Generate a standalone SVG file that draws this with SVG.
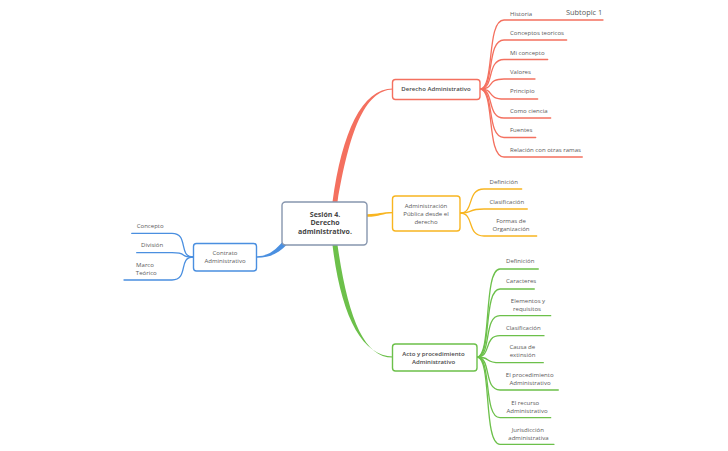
<svg xmlns="http://www.w3.org/2000/svg" width="728" height="451" viewBox="0 0 728 451">
<style>
.bg{fill:#ffffff}
text{font-family:"Open Sans","Liberation Sans",sans-serif;fill:#5a5a5a;font-size:6.05px}
.ctr{font-size:7px;font-weight:bold;fill:#454545}
.mid{text-anchor:middle}
.sb{font-weight:600;fill:#4a4a4a}
.box{fill:#ffffff;stroke-width:1.4}
.sub{fill:none;stroke-width:1.3;stroke-linecap:round}
.r{stroke:#f4705f}.o{stroke:#f8b520}.g{stroke:#6cc04a}.b{stroke:#4a8fe0}
</style>
<rect class="bg" x="0" y="0" width="728" height="451"/>
<g id="connectors">
  <path d="M332.5,202 C342,132 362,88.4 393,88.4 L393,89.6 C364,90 349,134 337.5,202 Z" fill="#f4705f"/>
  <path d="M332.5,245 C341,316 362,356.4 393,356.4 L393,357.6 C364,358 348,318 337.5,245 Z" fill="#6cc04a"/>
  <path d="M367,214.2 C379,214.2 381,212 393,212 L393,213.2 C382,213.2 380,216.8 367,216.8 Z" fill="#f8b520"/>
  <path d="M283,241 C276,250 268,256.2 257,256.2 L257,257.8 C270,257.8 279,253 287,244.5 Z" fill="#4a8fe0"/>
  <g class="sub r">
    <path d="M480,89 C495,89 486,20 504,20 H603"/>
    <path d="M480,89 C495,89 486,40 504,40 H566.7"/>
    <path d="M480,89 C495,89 486,59.5 504,59.5 H547.7"/>
    <path d="M480,89 C495,89 486,79 504,79 H535"/>
    <path d="M480,89 C495,89 486,99 504,99 H537.7"/>
    <path d="M480,89 C495,89 486,118 504,118 H550.7"/>
    <path d="M480,89 C495,89 486,137.5 504,137.5 H535.7"/>
    <path d="M480,89 C495,89 486,157 504,157 H582.3"/>
  </g>
  <g class="sub o">
    <path d="M460,213 C475,213 466,189 484,189 H521.7"/>
    <path d="M460,213 C475,213 466,209 484,209 H527.3"/>
    <path d="M460,213 C475,213 466,236 484,236 H536.7"/>
  </g>
  <g class="sub g">
    <path d="M477,357 C492,357 483,269 500,269 H538.3"/>
    <path d="M477,357 C492,357 483,289 500,289 H534.3"/>
    <path d="M477,357 C492,357 483,315.7 500,315.7 H550.7"/>
    <path d="M477,357 C492,357 483,335.7 500,335.7 H544"/>
    <path d="M477,357 C492,357 483,362.7 500,362.7 H543.3"/>
    <path d="M477,357 C492,357 483,390 500,390 H558.3"/>
    <path d="M477,357 C492,357 483,417.7 500,417.7 H550.7"/>
    <path d="M477,357 C492,357 483,444.3 500,444.3 H554"/>
  </g>
  <g class="sub b">
    <path d="M193,257 C178,257 189,233.3 172,233.3 H131.7"/>
    <path d="M193,257 C178,257 189,252.7 172,252.7 H136.7"/>
    <path d="M193,257 C178,257 189,280 172,280 H124"/>
  </g>
</g>
<g id="central">
  <rect class="box" x="282" y="202" width="85" height="43" rx="3.5" stroke="#8796ae"/>
  <text class="ctr mid" x="325" y="216.5"><tspan x="325">Sesión 4.</tspan><tspan x="325" dy="8.8">Derecho</tspan><tspan x="325" dy="8.8">administrativo.</tspan></text>
</g>
<g id="derecho">
  <rect class="box r" x="392.5" y="79.5" width="87.5" height="20" rx="3"/>
  <text class="sb mid" x="436" y="91.3">Derecho Administrativo</text>
</g>
<g id="derecho-subtopics">
  <text x="510" y="15.5">Historia</text>
  <text x="566" y="15.3" style="font-size:7.4px">Subtopic 1</text>
  <text x="510" y="35">Conceptos teoricos</text>
  <text x="510" y="54.5">Mi concepto</text>
  <text x="510" y="73.5">Valores</text>
  <text x="510" y="93">Principio</text>
  <text x="510" y="112.5">Como ciencia</text>
  <text x="510" y="132.2">Fuentes</text>
  <text x="510" y="151.5">Relación con otras ramas</text>
</g>
<g id="administracion">
  <rect class="box o" x="392.5" y="196" width="67.5" height="35" rx="3"/>
  <text class="mid" x="426" y="208"><tspan x="426">Administración</tspan><tspan x="426" dy="7.9">Pública desde el</tspan><tspan x="426" dy="7.9">derecho</tspan></text>
</g>
<g id="administracion-subtopics">
  <text x="489.5" y="184">Definición</text>
  <text x="489.5" y="204">Clasificación</text>
  <text class="mid" x="511" y="223"><tspan x="511">Formas de</tspan><tspan x="511" dy="8.2">Organización</tspan></text>
</g>
<g id="acto">
  <rect class="box g" x="392.5" y="344" width="84.5" height="27" rx="3"/>
  <text class="sb mid" x="433.5" y="355.5"><tspan x="433.5">Acto y procedimiento</tspan><tspan x="433.5" dy="8">Administrativo</tspan></text>
</g>
<g id="acto-subtopics">
  <text x="506" y="263.3">Definición</text>
  <text x="506" y="283">Caracteres</text>
  <text class="mid" x="527.5" y="303.2"><tspan x="528">Elementos y</tspan><tspan x="527" dy="7.6">requisitos</tspan></text>
  <text x="506" y="330">Clasificación</text>
  <text class="mid" x="522.3" y="349"><tspan x="522.3">Causa de</tspan><tspan x="522.5" dy="8.2">extinsión</tspan></text>
  <text class="mid" x="530" y="376.6"><tspan x="529.7">El procedimiento</tspan><tspan x="530" dy="8.3">Administrativo</tspan></text>
  <text class="mid" x="526" y="404.6"><tspan x="525.3">El recurso</tspan><tspan x="527" dy="8.3">Administrativo</tspan></text>
  <text class="mid" x="528" y="431.6"><tspan x="527.8">Jurisdicción</tspan><tspan x="528.5" dy="8">administrativa</tspan></text>
</g>
<g id="contrato">
  <rect class="box b" x="193.5" y="243.5" width="63" height="27.5" rx="3"/>
  <text class="mid" x="225" y="255"><tspan x="225">Contrato</tspan><tspan x="225" dy="8.3">Administrativo</tspan></text>
</g>
<g id="contrato-subtopics">
  <text x="136.7" y="228">Concepto</text>
  <text x="141" y="247.3">División</text>
  <text class="mid" x="145.5" y="266.6"><tspan x="145">Marco</tspan><tspan x="146.3" dy="8">Teórico</tspan></text>
</g>
</svg>
